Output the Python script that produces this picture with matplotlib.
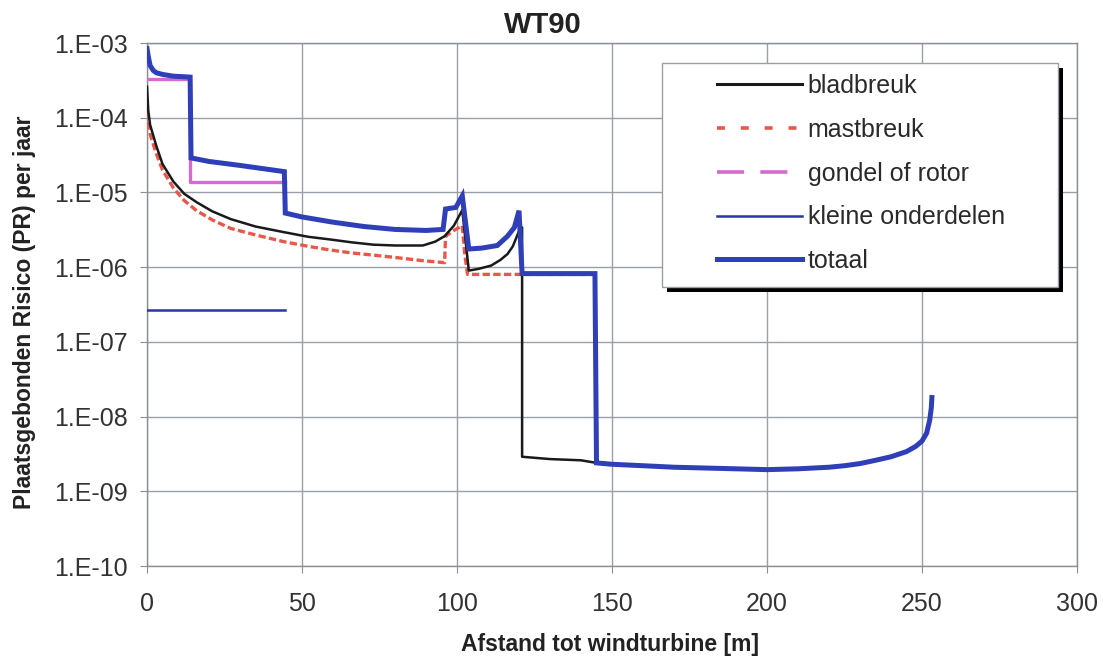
import numpy as np
import matplotlib.pyplot as plt
from matplotlib.lines import Line2D
from matplotlib.patches import Rectangle
from matplotlib.ticker import FixedLocator, FuncFormatter

plt.rcParams['font.family'] = ['Liberation Sans', 'DejaVu Sans']

# --- data ---
# tail after ~145 m: only bladbreuk left, so totaal == bladbreuk there
tail_x = [150, 160, 170, 180, 190, 200, 210, 220, 225, 230, 235, 240, 245, 248, 250, 251.5, 252.5, 253, 253.2]
tail_y = [2.3e-9, 2.2e-9, 2.1e-9, 2.05e-9, 2.0e-9, 1.95e-9, 2.0e-9, 2.1e-9, 2.2e-9, 2.35e-9,
          2.6e-9, 2.9e-9, 3.4e-9, 4.0e-9, 4.7e-9, 6.0e-9, 9.0e-9, 1.3e-8, 1.8e-8]

blad_x = [0, 0.4, 1, 3, 5, 8.5, 12, 16, 21, 27, 35, 44, 52, 59, 66, 73, 80, 89, 93, 96, 99,
          101.7, 103.8, 107, 111, 114, 116.3, 118, 119.5, 120.5, 121, 121, 130, 140, 145] + tail_x
blad_y = [2.6e-4, 1.25e-4, 8.0e-5, 4.2e-5, 2.4e-5, 1.4e-5, 9.6e-6, 7.4e-6, 5.6e-6, 4.4e-6, 3.5e-6,
          2.95e-6, 2.55e-6, 2.35e-6, 2.15e-6, 2.0e-6, 1.95e-6, 1.95e-6, 2.2e-6, 2.6e-6, 3.6e-6,
          5.8e-6, 9.0e-7, 9.5e-7, 1.05e-6, 1.25e-6, 1.5e-6, 1.9e-6, 2.7e-6, 3.4e-6, 3.4e-6,
          2.9e-9, 2.7e-9, 2.6e-9, 2.4e-9] + tail_y

mast_x = [0, 1, 3, 5, 8.5, 12, 16, 21, 27, 35, 44, 52, 59, 66, 73, 80, 89, 96,
          96.3, 99, 101.7, 102.5, 103.4, 110, 120, 130, 145]
mast_y = [1.2e-4, 6.0e-5, 3.3e-5, 2.0e-5, 1.15e-5, 7.8e-6, 5.7e-6, 4.3e-6, 3.3e-6, 2.7e-6, 2.2e-6,
          1.9e-6, 1.7e-6, 1.55e-6, 1.45e-6, 1.35e-6, 1.22e-6, 1.15e-6,
          2.6e-6, 3.1e-6, 3.6e-6, 1.5e-6, 8.0e-7, 8.0e-7, 8.0e-7, 8.0e-7, 8.0e-7]

gondel_x = [0, 14, 14, 44.5]
gondel_y = [3.3e-4, 3.3e-4, 1.4e-5, 1.4e-5]

klein_x = [0, 44.5]
klein_y = [2.7e-7, 2.7e-7]

tot_x = [0, 0.5, 1, 2, 3, 5, 8.5, 13.9, 14.2, 20, 30, 44.3, 44.6, 50, 60, 70, 80, 90, 95.5,
         96.3, 99.6, 101.7, 103.8, 108, 113, 116.3, 118.5, 120, 121, 144.5, 145] + tail_x
tot_y = [8.4e-4, 6.3e-4, 5.0e-4, 4.3e-4, 4.0e-4, 3.8e-4, 3.6e-4, 3.5e-4, 2.9e-5, 2.6e-5, 2.3e-5,
         1.9e-5, 5.3e-6, 4.7e-6, 4.0e-6, 3.5e-6, 3.2e-6, 3.1e-6, 3.2e-6,
         6.0e-6, 6.3e-6, 9.0e-6, 1.75e-6, 1.8e-6, 1.95e-6, 2.6e-6, 3.4e-6, 5.7e-6, 8.2e-7,
         8.2e-7, 2.4e-9] + tail_y

labels = ['bladbreuk', 'mastbreuk', 'gondel of rotor', 'kleine onderdelen', 'totaal']
c_blad = '#1a1a1a'
c_mast = '#e8584a'
c_gondel = '#d46ccc'
c_klein = '#2838a0'
c_tot = '#2f3fb8'

fig = plt.figure(figsize=(11.03, 6.6), dpi=100)
ax = fig.add_axes([0.1333, 0.1424, 0.8431, 0.7924])

ax.plot(gondel_x, gondel_y, color=c_gondel, lw=2.4, zorder=3)
ax.plot(klein_x, klein_y, color=c_klein, lw=1.8, zorder=3)
ax.plot(mast_x, mast_y, color=c_mast, lw=2.4, dashes=(2.2, 1.0), zorder=4)
ax.plot(blad_x, blad_y, color=c_blad, lw=1.8, zorder=4)
ax.plot(tot_x, tot_y, color=c_tot, lw=3.6, zorder=5, solid_joinstyle='miter')

ax.set_yscale('log')
ax.set_xlim(0, 300)
ax.set_ylim(1e-10, 1e-3)
ax.xaxis.set_major_locator(FixedLocator(range(0, 301, 50)))
ax.yaxis.set_major_locator(FixedLocator([10.0 ** -k for k in range(3, 11)]))
ax.yaxis.set_minor_locator(FixedLocator([]))
ax.yaxis.set_major_formatter(FuncFormatter(lambda v, p: "1.E-%02d" % int(round(-np.log10(v)))))

ax.grid(True, color='#9a9fa6', lw=1.0)
ax.set_axisbelow(True)
for s in ax.spines.values():
    s.set_color('#8a8f96')
    s.set_linewidth(1.0)
ax.tick_params(axis='both', direction='out', length=5, color='#8a8f96', labelcolor='#333333', labelsize=18)
ax.tick_params(axis='y', pad=9)
ax.tick_params(axis='x', pad=14)

fig.text(0.4925, 0.962, 'WT90', ha='center', va='center', fontsize=21, fontweight='bold', color='#222222')
fig.text(0.553, 1 - 645 / 660, 'Afstand tot windturbine [m]', ha='center', va='center',
         fontsize=16.5, fontweight='bold', color='#222222')
fig.text(25 / 1103, 1 - 312 / 660, 'Plaatsgebonden Risico (PR) per jaar', rotation=90, ha='center', va='center',
         fontsize=16.5, fontweight='bold', color='#222222')

# legend box with hard black shadow
fig.patches.append(Rectangle((667 / 1103, 1 - 292 / 660), 396 / 1103, 224 / 660,
                             transform=fig.transFigure, facecolor='black', edgecolor='none', zorder=8))
fig.patches.append(Rectangle((662 / 1103, 1 - 287 / 660), 396 / 1103, 224 / 660,
                             transform=fig.transFigure, facecolor='white', edgecolor='#9a9fa6', lw=1, zorder=9))

handles = [
    Line2D([], [], color=c_blad, lw=2.2),
    Line2D([], [], color=c_mast, lw=2.6, dashes=(2.2, 4.4)),
    Line2D([], [], color=c_gondel, lw=2.6, dashes=(7.5, 4.5)),
    Line2D([], [], color=c_klein, lw=1.8),
    Line2D([], [], color=c_tot, lw=3.6),
]
leg = fig.legend(handles, labels, loc='upper left', bbox_to_anchor=(717 / 1103, 1 - 74 / 660),
                 bbox_transform=fig.transFigure, frameon=False, fontsize=18, handlelength=3.4,
                 handletextpad=0.22, labelspacing=0.79, borderpad=0, borderaxespad=0)
leg.set_zorder(10)
for t in leg.get_texts():
    t.set_color('#2a2a2a')

fig.savefig('out.png', dpi=100)
